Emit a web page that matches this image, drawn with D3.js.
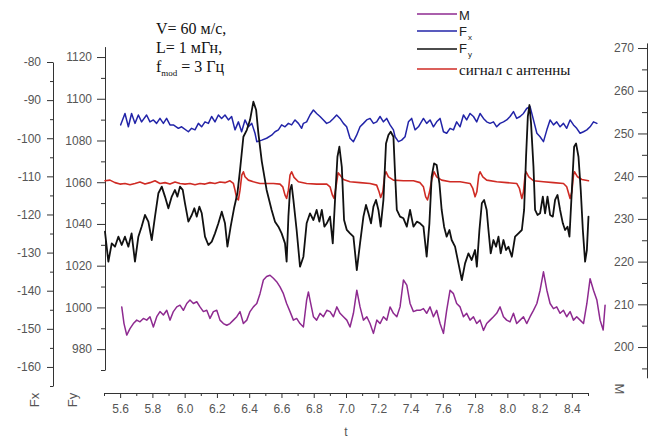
<!DOCTYPE html>
<html>
<head>
<meta charset="utf-8">
<script src="https://cdn.jsdelivr.net/npm/d3@7"></script>
<style>
  body { margin: 0; background: #fff; }
  svg text { font-family: "Liberation Sans", Arial, sans-serif; }
  .serif { font-family: "Liberation Serif", "Times New Roman", serif !important; }
</style>
</head>
<body>
<svg id="chart" width="652" height="438"></svg>
<script>
// ---- data: [t, value] ----
const fxSeries = [
  [5.603,-96.5],[5.630,-93.5],[5.651,-97.0],[5.671,-93.5],[5.692,-96.1],[5.713,-93.9],[5.733,-95.7],[5.764,-93.9],[5.785,-95.7],[5.806,-95.2],
  [5.826,-96.1],[5.847,-94.8],[5.868,-96.1],[5.888,-94.8],[5.909,-96.5],[5.930,-96.5],[5.961,-97.4],[5.981,-97.0],[6.023,-98.3],[6.043,-97.4],
  [6.064,-97.8],[6.085,-96.1],[6.105,-97.0],[6.126,-95.7],[6.147,-96.1],[6.167,-94.3],[6.188,-95.7],[6.209,-93.9],[6.229,-94.8],[6.250,-93.9],
  [6.271,-95.2],[6.291,-94.3],[6.312,-97.8],[6.333,-95.7],[6.353,-98.3],[6.374,-95.2],[6.395,-97.0],[6.416,-96.1],[6.436,-98.7],[6.447,-100.9],
  [6.478,-100.5],[6.508,-100.0],[6.539,-99.2],[6.560,-98.3],[6.581,-97.8],[6.601,-96.5],[6.622,-97.0],[6.643,-96.1],[6.663,-96.5],[6.684,-95.2],
  [6.705,-96.1],[6.725,-97.4],[6.736,-96.1],[6.756,-95.7],[6.777,-93.9],[6.798,-92.6],[6.818,-93.5],[6.839,-94.3],[6.860,-95.2],[6.880,-96.1],
  [6.901,-95.7],[6.922,-94.8],[6.942,-93.9],[6.963,-94.8],[6.984,-96.1],[7.004,-97.0],[7.025,-100.0],[7.046,-100.9],[7.066,-99.2],[7.087,-97.0],
  [7.108,-96.1],[7.128,-95.2],[7.149,-94.8],[7.170,-96.1],[7.190,-95.7],[7.211,-94.3],[7.232,-95.7],[7.252,-94.8],[7.273,-96.5],[7.294,-97.8],
  [7.304,-99.6],[7.325,-100.9],[7.345,-100.5],[7.366,-99.6],[7.387,-95.7],[7.407,-94.8],[7.428,-97.8],[7.449,-97.0],[7.480,-94.8],[7.500,-96.1],
  [7.521,-95.2],[7.542,-97.0],[7.562,-95.7],[7.583,-94.8],[7.604,-98.3],[7.624,-98.7],[7.645,-97.4],[7.666,-97.8],[7.686,-95.7],[7.707,-97.0],
  [7.728,-93.9],[7.748,-95.2],[7.769,-93.5],[7.790,-94.3],[7.810,-95.7],[7.831,-93.5],[7.852,-94.8],[7.872,-95.7],[7.893,-96.1],[7.914,-95.7],
  [7.934,-97.0],[7.955,-96.1],[7.976,-95.7],[7.996,-95.2],[8.017,-94.3],[8.038,-93.0],[8.058,-94.8],[8.079,-94.3],[8.100,-93.5],[8.120,-92.2],
  [8.141,-91.7],[8.162,-95.2],[8.183,-98.7],[8.203,-99.6],[8.224,-100.9],[8.245,-97.8],[8.265,-95.2],[8.286,-96.5],[8.306,-95.7],[8.327,-97.0],
  [8.348,-96.1],[8.368,-97.4],[8.389,-95.2],[8.410,-96.5],[8.430,-97.4],[8.451,-98.7],[8.472,-98.3],[8.493,-97.8],[8.513,-97.0],[8.534,-95.7],
  [8.555,-96.1]
];

const fySeries = [
  [5.506,1036.3],[5.527,1021.9],[5.548,1030.7],[5.568,1029.1],[5.589,1033.9],[5.610,1029.9],[5.630,1033.9],[5.651,1029.1],[5.671,1035.5],[5.692,1021.9],
  [5.713,1033.9],[5.733,1038.7],[5.754,1044.3],[5.775,1041.1],[5.796,1032.3],[5.816,1043.5],[5.837,1054.7],[5.858,1057.9],[5.878,1053.1],[5.899,1047.5],
  [5.920,1053.1],[5.940,1056.3],[5.955,1053.1],[5.971,1057.9],[5.988,1056.3],[6.002,1049.9],[6.023,1041.1],[6.044,1044.3],[6.060,1047.5],[6.075,1043.5],
  [6.091,1048.3],[6.106,1045.1],[6.126,1033.9],[6.147,1029.9],[6.168,1031.5],[6.188,1035.5],[6.209,1040.3],[6.230,1045.9],[6.250,1040.3],[6.265,1029.1],
  [6.285,1038.7],[6.306,1047.5],[6.327,1054.7],[6.343,1065.8],[6.364,1081.8],[6.385,1085.0],[6.405,1089.8],[6.426,1098.6],[6.443,1094.6],[6.457,1083.4],
  [6.478,1070.0],[6.508,1056.3],[6.539,1046.7],[6.560,1041.1],[6.581,1038.7],[6.601,1035.5],[6.622,1030.7],[6.632,1021.9],[6.643,1043.5],[6.653,1056.3],
  [6.663,1058.7],[6.674,1051.5],[6.694,1037.1],[6.715,1019.5],[6.736,1024.3],[6.756,1040.3],[6.777,1045.1],[6.798,1041.9],[6.818,1046.7],[6.835,1041.1],
  [6.850,1046.7],[6.866,1038.7],[6.881,1040.3],[6.901,1043.5],[6.918,1030.7],[6.932,1051.5],[6.947,1072.2],[6.959,1077.0],[6.974,1067.4],[6.988,1041.9],
  [7.005,1037.1],[7.025,1035.5],[7.046,1033.9],[7.067,1017.9],[7.087,1030.7],[7.108,1043.5],[7.124,1049.1],[7.139,1045.1],[7.155,1040.3],[7.170,1048.3],
  [7.186,1051.5],[7.201,1046.7],[7.215,1038.7],[7.232,1051.5],[7.248,1078.6],[7.263,1082.6],[7.277,1084.2],[7.294,1081.8],[7.304,1064.2],[7.315,1046.7],
  [7.335,1043.5],[7.356,1042.7],[7.377,1038.7],[7.397,1046.7],[7.418,1038.7],[7.439,1041.1],[7.459,1040.3],[7.480,1038.7],[7.500,1024.3],[7.517,1040.3],
  [7.531,1062.7],[7.546,1069.0],[7.562,1068.2],[7.579,1059.5],[7.593,1046.7],[7.608,1038.7],[7.624,1033.9],[7.641,1037.1],[7.655,1032.3],[7.676,1029.1],
  [7.697,1021.1],[7.718,1013.1],[7.738,1021.1],[7.759,1025.9],[7.779,1022.7],[7.800,1027.5],[7.811,1019.5],[7.827,1037.1],[7.842,1049.9],[7.856,1051.5],
  [7.872,1046.7],[7.883,1037.1],[7.897,1025.9],[7.914,1032.3],[7.930,1029.1],[7.945,1033.9],[7.959,1025.9],[7.976,1032.3],[7.992,1027.5],[8.007,1029.1],
  [8.028,1024.3],[8.048,1033.9],[8.069,1035.5],[8.090,1037.1],[8.104,1046.7],[8.116,1072.2],[8.127,1091.4],[8.137,1097.0],[8.147,1088.2],[8.162,1067.4],
  [8.172,1046.7],[8.187,1044.3],[8.203,1045.1],[8.220,1053.1],[8.234,1045.1],[8.249,1053.1],[8.265,1044.3],[8.282,1043.5],[8.296,1051.5],[8.311,1053.9],
  [8.327,1046.7],[8.344,1040.3],[8.358,1037.1],[8.373,1038.7],[8.385,1033.9],[8.400,1056.3],[8.414,1077.0],[8.426,1078.6],[8.441,1072.2],[8.455,1056.3],
  [8.468,1037.1],[8.482,1021.9],[8.493,1027.5],[8.503,1043.5]
];

// antenna signal, drawn against the Fy scale
const antennaSeries = [
  [5.506,1060.7],[5.537,1061.0],[5.568,1059.8],[5.599,1059.1],[5.630,1059.4],[5.661,1058.8],[5.692,1059.4],[5.723,1060.1],[5.754,1059.1],[5.785,1059.8],
  [5.816,1060.7],[5.847,1059.4],[5.878,1059.8],[5.909,1059.1],[5.940,1060.1],[5.971,1059.4],[6.002,1059.1],[6.033,1059.4],[6.064,1058.8],[6.095,1059.4],
  [6.126,1059.1],[6.157,1059.8],[6.188,1059.4],[6.219,1060.1],[6.250,1059.8],[6.281,1060.7],[6.302,1059.4],[6.312,1056.2],[6.323,1052.2],[6.333,1051.5],
  [6.343,1056.2],[6.354,1063.4],[6.364,1065.0],[6.374,1062.6],[6.395,1061.0],[6.426,1060.2],[6.467,1059.4],[6.508,1059.4],[6.550,1059.4],[6.591,1059.1],
  [6.608,1057.8],[6.622,1053.8],[6.632,1052.2],[6.643,1056.2],[6.653,1063.4],[6.663,1065.0],[6.678,1062.3],[6.705,1060.2],[6.756,1059.4],[6.818,1059.1],
  [6.881,1059.1],[6.901,1057.8],[6.916,1053.8],[6.926,1052.2],[6.938,1057.8],[6.951,1064.5],[6.963,1063.4],[6.984,1061.3],[7.025,1060.2],[7.087,1059.8],
  [7.149,1059.4],[7.190,1058.6],[7.205,1055.4],[7.215,1052.7],[7.228,1055.4],[7.240,1063.4],[7.248,1065.0],[7.263,1062.6],[7.294,1061.0],[7.356,1060.7],
  [7.418,1060.7],[7.459,1059.8],[7.480,1057.8],[7.494,1053.0],[7.505,1051.5],[7.518,1055.4],[7.531,1061.0],[7.546,1065.0],[7.562,1062.6],[7.593,1061.0],
  [7.645,1060.2],[7.707,1060.2],[7.769,1059.4],[7.786,1057.0],[7.800,1053.0],[7.811,1055.4],[7.823,1063.4],[7.831,1065.0],[7.848,1062.6],[7.872,1061.0],
  [7.934,1060.2],[7.996,1059.8],[8.058,1059.4],[8.075,1057.0],[8.090,1052.2],[8.100,1055.4],[8.110,1063.4],[8.116,1065.0],[8.133,1062.6],[8.162,1060.7],
  [8.224,1060.2],[8.286,1059.8],[8.348,1059.4],[8.368,1057.8],[8.389,1052.2],[8.400,1055.4],[8.410,1063.4],[8.416,1065.0],[8.435,1062.6],[8.462,1061.3],
  [8.503,1060.7]
];

const mSeries = [
  [5.610,209.4],[5.624,205.5],[5.641,202.8],[5.661,204.3],[5.682,205.5],[5.703,206.3],[5.723,205.9],[5.744,206.7],[5.765,206.3],[5.785,207.1],
  [5.806,204.7],[5.827,207.1],[5.847,208.3],[5.868,207.5],[5.889,208.6],[5.909,206.3],[5.930,208.3],[5.951,209.4],[5.971,209.8],[5.992,208.6],
  [6.013,210.2],[6.033,211.0],[6.054,210.2],[6.075,210.6],[6.095,209.4],[6.116,208.3],[6.137,208.6],[6.157,206.7],[6.178,208.3],[6.199,208.6],
  [6.219,206.3],[6.240,205.5],[6.261,205.1],[6.281,205.5],[6.302,206.3],[6.323,207.1],[6.343,208.3],[6.364,205.5],[6.385,206.3],[6.405,208.3],
  [6.426,209.4],[6.447,210.2],[6.467,212.5],[6.488,215.7],[6.508,216.5],[6.529,216.8],[6.550,216.1],[6.570,215.3],[6.591,214.1],[6.612,212.5],
  [6.632,210.2],[6.653,208.3],[6.674,206.3],[6.694,206.7],[6.715,205.5],[6.736,204.7],[6.756,211.0],[6.767,212.9],[6.777,211.0],[6.798,207.1],
  [6.818,206.3],[6.839,207.9],[6.860,207.1],[6.881,208.6],[6.901,208.3],[6.922,207.1],[6.943,209.4],[6.963,207.9],[6.984,207.1],[7.005,206.3],
  [7.025,204.7],[7.046,207.9],[7.067,213.3],[7.087,209.4],[7.108,206.3],[7.129,207.1],[7.149,205.5],[7.170,203.2],[7.191,206.3],[7.211,205.5],
  [7.232,207.1],[7.253,206.3],[7.273,209.4],[7.294,207.9],[7.315,207.1],[7.335,209.4],[7.356,215.7],[7.377,214.5],[7.397,210.2],[7.418,208.3],
  [7.439,208.6],[7.459,208.6],[7.480,209.0],[7.500,207.9],[7.521,209.4],[7.542,207.1],[7.562,208.6],[7.583,205.5],[7.604,203.2],[7.624,208.6],
  [7.645,213.3],[7.666,212.5],[7.686,210.2],[7.707,209.4],[7.728,207.1],[7.748,207.9],[7.769,206.3],[7.790,207.1],[7.810,205.5],[7.831,206.3],
  [7.852,203.9],[7.872,205.5],[7.893,206.3],[7.914,207.1],[7.934,207.9],[7.955,209.4],[7.976,207.1],[7.996,206.3],[8.017,205.9],[8.038,207.9],
  [8.058,205.5],[8.079,206.3],[8.100,207.1],[8.120,205.5],[8.141,207.1],[8.162,208.6],[8.183,210.2],[8.203,213.3],[8.224,217.6],[8.245,213.3],
  [8.265,210.2],[8.286,209.0],[8.306,209.4],[8.327,207.9],[8.348,208.6],[8.368,207.1],[8.389,208.3],[8.410,206.3],[8.430,207.1],[8.451,206.3],
  [8.472,205.5],[8.493,210.2],[8.513,216.0],[8.534,213.3],[8.555,211.0],[8.575,206.3],[8.594,204.0],[8.606,209.8]
];

// ---- ticks ----
const tTicks = [5.6,5.8,6.0,6.2,6.4,6.6,6.8,7.0,7.2,7.4,7.6,7.8,8.0,8.2,8.4];
const tMinor = [5.5,5.7,5.9,6.1,6.3,6.5,6.7,6.9,7.1,7.3,7.5,7.7,7.9,8.1,8.3,8.5];
const fxTicks = [-160,-150,-140,-130,-120,-110,-100,-90,-80];
const fxMinor = [-165,-155,-145,-135,-125,-115,-105,-95,-85];
const fyTicks = [980,1000,1020,1040,1060,1080,1100,1120];
const fyMinor = [970,990,1010,1030,1050,1070,1090,1110];
const mTicks = [200,210,220,230,240,250,260,270];
const mMinor = [195,205,215,225,235,245,255,265];

const colors = { m: "#8e2a90", fx: "#2224a8", fy: "#111111", ant: "#cf2b24" };
const axisColor = "#333";
const labelColor = "#555";

const svg = d3.select("#chart");

// ---- scales ----
const x = d3.scaleLinear().domain([5.5, 8.5]).range([104, 588]);
const yFx = d3.scaleLinear().domain([-165, -80]).range([386, 62]);
const yFy = d3.scaleLinear().domain([970, 1125]).range([370, 46.6]);
const yM = d3.scaleLinear().domain([192.8, 271.2]).range([377.8, 42.9]);

function styleAxis(g) {
  g.select(".domain").attr("stroke", axisColor).attr("stroke-width", 1);
  g.selectAll(".tick line").attr("stroke", axisColor);
  g.selectAll(".tick text").attr("fill", labelColor).attr("font-size", 12);
}

function leftAxis(scale, xPos, major, minor, size, pad, minorSize) {
  const gMinor = svg.append("g").attr("transform", `translate(${xPos},0)`)
    .call(d3.axisLeft(scale).tickValues(minor).tickSize(minorSize).tickSizeOuter(0).tickFormat(""));
  gMinor.select(".domain").remove();
  gMinor.selectAll(".tick line").attr("stroke", axisColor);
  const g = svg.append("g").attr("transform", `translate(${xPos},0)`)
    .call(d3.axisLeft(scale).tickValues(major).tickSize(size).tickPadding(pad)
      .tickSizeOuter(0).tickFormat(d => String(d)));
  styleAxis(g);
}

leftAxis(yFx, 53, fxTicks, fxMinor, 6, 6, 3);
leftAxis(yFy, 105, fyTicks, fyMinor, 8, 5, 4);
leftAxis(yM, 647, mTicks, mMinor, 9, 4, 5);

// bottom axis
{
  const gMinor = svg.append("g").attr("transform", "translate(0,393)")
    .call(d3.axisBottom(x).tickValues(tMinor).tickSize(3).tickSizeOuter(0).tickFormat(""));
  gMinor.select(".domain").remove();
  gMinor.selectAll(".tick line").attr("stroke", axisColor);
  const g = svg.append("g").attr("transform", "translate(0,393)")
    .call(d3.axisBottom(x).tickValues(tTicks).tickSize(5).tickPadding(6)
      .tickSizeOuter(0).tickFormat(d3.format(".1f")));
  styleAxis(g);
}

// axis titles
svg.append("text").attr("transform", "translate(39,400) rotate(-90)")
  .attr("text-anchor", "middle").attr("font-size", 13).attr("fill", labelColor).text("Fx");
svg.append("text").attr("transform", "translate(77,400) rotate(-90)")
  .attr("text-anchor", "middle").attr("font-size", 13).attr("fill", labelColor).text("Fy");
svg.append("text").attr("transform", "translate(615,389) rotate(90)")
  .attr("text-anchor", "middle").attr("font-size", 13).attr("fill", labelColor).text("M");
svg.append("text").attr("x", 346).attr("y", 436)
  .attr("text-anchor", "middle").attr("font-size", 12).attr("fill", labelColor).text("t");

// ---- series ----
const lineOf = ys => d3.line().x(d => x(d[0])).y(d => ys(d[1]));
function drawSeries(data, ys, color, w) {
  svg.append("path").datum(data)
    .attr("fill", "none").attr("stroke", color).attr("stroke-width", w)
    .attr("stroke-linejoin", "round").attr("stroke-linecap", "round")
    .attr("d", lineOf(ys));
}
drawSeries(mSeries, yM, colors.m, 1.5);
drawSeries(fxSeries, yFx, colors.fx, 1.5);
drawSeries(antennaSeries, yFy, colors.ant, 1.6);
drawSeries(fySeries, yFy, colors.fy, 1.8);

// ---- parameters ----
const params = svg.append("g").attr("class", "serif").attr("font-size", 16).attr("fill", "#111");
params.append("text").attr("class", "serif").attr("x", 156).attr("y", 34).text("V= 60 м/с,");
params.append("text").attr("class", "serif").attr("x", 156).attr("y", 53).text("L= 1 мГн,");
const fm = params.append("text").attr("class", "serif").attr("x", 156).attr("y", 72);
fm.append("tspan").text("f");
fm.append("tspan").attr("font-size", 9).attr("dy", 4).text("mod");
fm.append("tspan").attr("dy", -4).text(" = 3 Гц");

// ---- legend ----
const legendItems = [
  { key: "m", y: 14 },
  { key: "fx", y: 31 },
  { key: "fy", y: 49 },
  { key: "ant", y: 69 }
];
const lg = svg.append("g");
legendItems.forEach(it => {
  lg.append("line").attr("x1", 417).attr("x2", 457).attr("y1", it.y).attr("y2", it.y)
    .attr("stroke", colors[it.key]).attr("stroke-width", 1.5);
});
lg.append("text").attr("x", 459).attr("y", 19.5).attr("font-size", 13).attr("fill", "#222").text("M");
const lfx = lg.append("text").attr("x", 459).attr("y", 36).attr("font-size", 13).attr("fill", "#222");
lfx.append("tspan").text("F");
lfx.append("tspan").attr("font-size", 8).attr("dy", 4).attr("dx", 1).text("x");
const lfy = lg.append("text").attr("x", 459).attr("y", 53).attr("font-size", 13).attr("fill", "#222");
lfy.append("tspan").text("F");
lfy.append("tspan").attr("font-size", 8).attr("dy", 4).attr("dx", 1).text("y");
lg.append("text").attr("class", "serif").attr("x", 459).attr("y", 75).attr("font-size", 15)
  .attr("fill", "#111").text("сигнал с антенны");
</script>
</body>
</html>
